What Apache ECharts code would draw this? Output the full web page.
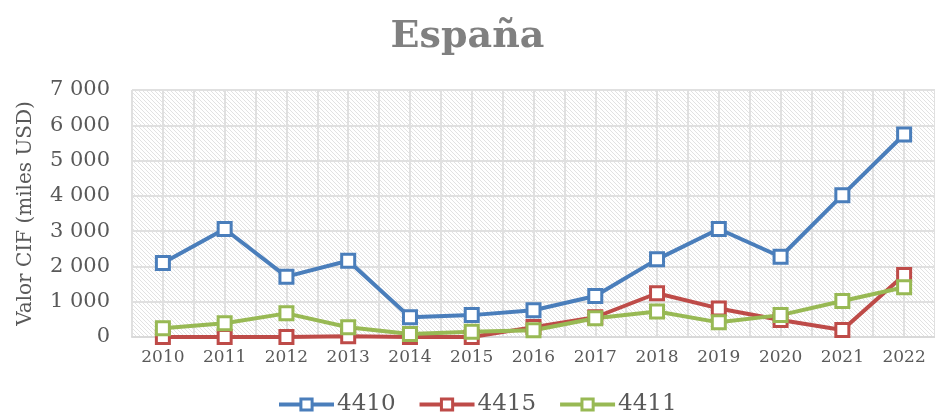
<!DOCTYPE html>
<html>
<head>
<meta charset="utf-8">
<script src="https://cdn.jsdelivr.net/npm/echarts@6/dist/echarts.min.js"></script>
<style>
  html, body { margin: 0; padding: 0; background: #ffffff; }
  #chart { width: 935px; height: 417px; }
</style>
</head>
<body>
<div id="chart"></div>
<script>
// datos
var years = ['2010', '2011', '2012', '2013', '2014', '2015', '2016', '2017', '2018', '2019', '2020', '2021', '2022'];
var s4410 = [2100, 3060, 1710, 2160, 560, 620, 760, 1160, 2200, 3060, 2275, 4020, 5740];
var s4415 = [0, 0, 0, 20, 0, 0, 280, 560, 1240, 810, 480, 200, 1760];
var s4411 = [245, 390, 670, 275, 85, 150, 190, 530, 720, 415, 620, 1020, 1410];
var yTicks = [0, 1000, 2000, 3000, 4000, 5000, 6000, 7000];

var colors = { '4410': '#4a7ebb', '4415': '#be4b48', '4411': '#98b954' };

// trama diagonal del fondo
function makeHatch() {
  var c = document.createElement('canvas');
  c.width = 4; c.height = 4;
  var ctx = c.getContext('2d');
  ctx.fillStyle = '#ffffff';
  ctx.fillRect(0, 0, 4, 4);
  ctx.fillStyle = '#e2e2e2';
  for (var i = 0; i < 4; i++) ctx.fillRect(i, i, 1, 1);
  return c;
}

function fmt(v) {
  return String(v).replace(/\B(?=(\d{3})+(?!\d))/g, ' ');
}

function mkSeries(name, data) {
  return {
    name: name,
    type: 'line',
    data: data,
    symbol: 'rect',
    symbolSize: 13,
    color: colors[name],
    lineStyle: { color: colors[name], width: 4 },
    itemStyle: { color: '#ffffff', borderColor: colors[name], borderWidth: 3 },
    emphasis: { disabled: true },
    animation: false
  };
}

var myChart = echarts.init(document.getElementById('chart'));
var option = {
  animation: false,
  title: {
    text: 'España',
    left: 'center',
    top: 13,
    textStyle: { fontFamily: 'DejaVu Serif', fontWeight: 'bold', fontSize: 38, color: '#808080' }
  },
  legend: {
    data: ['4410', '4415', '4411'],
    top: 388,
    left: 272,
    itemWidth: 55,
    itemHeight: 14,
    itemGap: 22,
    lineStyle: { width: 4 },
    itemStyle: { borderWidth: 3 },
    textStyle: { fontFamily: 'DejaVu Serif', fontSize: 23, color: '#595959', padding: [0, 0, 0, -2] }
  },
  grid: {
    left: 132, top: 90, width: 808, bottom: 80,
    show: true,
    borderWidth: 0,
    backgroundColor: { image: makeHatch(), repeat: 'repeat' }
  },
  xAxis: [{
    type: 'category',
    data: years,
    boundaryGap: true,
    axisLine: { show: true, lineStyle: { color: '#d9d9d9', width: 2 } },
    axisTick: { show: false },
    splitLine: { show: false },
    axisLabel: { fontFamily: 'DejaVu Serif', fontSize: 17, color: '#595959', margin: 12, interval: 0 }
  }, {
    type: 'value',
    min: 0, max: 26, interval: 1,
    position: 'bottom',
    axisLine: { show: false },
    axisTick: { show: false },
    axisLabel: { show: false },
    splitLine: { show: true, lineStyle: { color: '#e0e0e0', width: 2 } }
  }],
  yAxis: {
    type: 'value',
    min: 0, max: 7000, interval: 1000,
    name: 'Valor CIF (miles USD)',
    nameLocation: 'middle',
    nameGap: 96,
    nameTextStyle: { fontFamily: 'DejaVu Serif', fontSize: 20, color: '#595959' },
    axisLine: { show: false },
    axisTick: { show: false },
    axisLabel: {
      fontFamily: 'DejaVu Serif', fontSize: 21, color: '#595959', margin: 22,
      formatter: function (v) { return yTicks.indexOf(v) >= 0 ? fmt(v) : ''; }
    },
    splitLine: { show: true, lineStyle: { color: '#e0e0e0', width: 2 } }
  },
  series: [
    mkSeries('4410', s4410),
    mkSeries('4415', s4415),
    mkSeries('4411', s4411)
  ]
};
myChart.setOption(option);
</script>
</body>
</html>
